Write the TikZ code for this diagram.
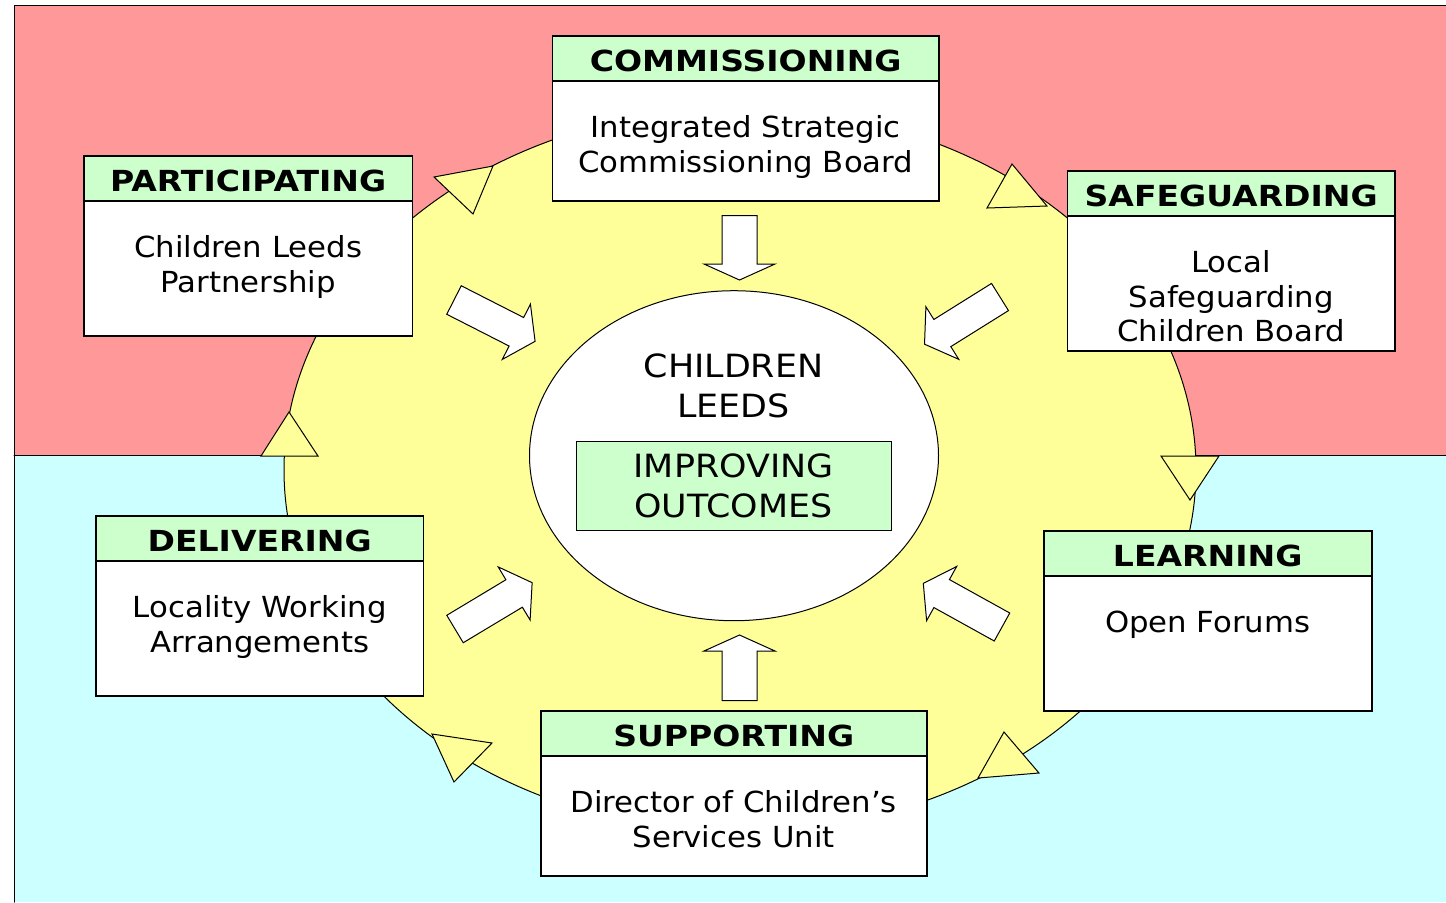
\documentclass[tikz,border=0pt]{standalone}
\usepackage{fontspec}
\setmainfont{DejaVu Sans}
\newfontfamily\boxfont{DejaVu Sans}[FakeStretch=1.06]
\newfontfamily\titlefont{DejaVu Sans}[FakeStretch=1.14]
\newfontfamily\corefont{DejaVu Sans}[FakeStretch=1.09]
\usetikzlibrary{positioning,shapes.geometric}
\definecolor{pinkbg}{HTML}{FF9999}
\definecolor{cyanbg}{HTML}{CCFFFF}
\definecolor{ringyellow}{HTML}{FFFF99}
\definecolor{headgreen}{HTML}{CCFFCC}
\tikzset{
  headbox/.style={draw,fill=headgreen,line width=0.8pt,minimum height=22.5pt,outer sep=0pt,inner sep=0pt,
    text height=13.5pt,text depth=0pt,font=\titlefont\bfseries\fontsize{14.5}{17}\selectfont},
  bodybox/.style={draw,fill=white,line width=0.8pt,minimum height=67.5pt,outer sep=0pt,inner sep=0pt},
  bodytext/.style={align=center,inner sep=0pt,anchor=base,font=\boxfont\fontsize{14.5}{17.25}\selectfont},
  cycletri/.style={draw,fill=ringyellow,line width=0.5pt,line join=miter},
  arrowblock/.style={draw,fill=white,line width=0.5pt,line join=miter}
}
\begin{document}
\begin{tikzpicture}[x=0.5pt,y=-0.5pt,line cap=round]
\useasboundingbox (0,0) rectangle (1446,902);
% background halves
\fill[pinkbg] (14,5.7) rectangle (1446,455.7);
\fill[cyanbg] (14,455.7) rectangle (1446,902);
\draw[line width=0.5pt] (1446,5.7) -- (14,5.7) -- (14,902);
\draw[line width=0.5pt] (14,455.7) -- (1446,455.7);
% ring
\draw[fill=ringyellow,line width=0.5pt] (740,470) ellipse [x radius=456, y radius=362];
\draw[cycletri] (434,177) -- (493,166) -- (473,214) -- cycle;
\draw[cycletri] (1012,164) -- (1047,206) -- (987,208) -- cycle;
\draw[cycletri] (1161,456) -- (1219,456) -- (1190,500) -- cycle;
\draw[cycletri] (1004,732) -- (1039,773) -- (978,778) -- cycle;
\draw[cycletri] (432,734) -- (492,743) -- (454,782) -- cycle;
\draw[cycletri] (261,456) -- (318,456) -- (289,412) -- cycle;
% centre
\node[ellipse,draw,fill=white,line width=0.5pt,minimum width=204.5pt,minimum height=165pt,inner sep=0pt] (core) at (734,455.7) {};
\node[align=center,inner sep=0pt,anchor=base,font=\corefont\fontsize{16}{20}\selectfont] (corename) at (733.5,417) {CHILDREN\\LEEDS};
\node[draw,fill=headgreen,line width=0.5pt,minimum width=157.5pt,minimum height=44.5pt,align=center,inner sep=0pt,
  font=\corefont\fontsize{16}{20}\selectfont] (outcomes) at (733.5,486) {IMPROVING\\OUTCOMES};
% block arrows
\draw[arrowblock] (722,215.7) -- (757,215.7) -- (757,264) -- (775,264) -- (739.5,280) -- (704,264) -- (722,264) -- cycle;
\draw[arrowblock] (722,700.7) -- (757,700.7) -- (757,651) -- (775,651) -- (739.5,635) -- (704,651) -- (722,651) -- cycle;
\draw[arrowblock,shift={(454,300)},rotate=-27] (0,-16) -- (70,-16) -- (70,-31) -- (91,0) -- (70,31) -- (70,16) -- (0,16) -- cycle;
\draw[arrowblock,shift={(1000,297)},rotate=-148] (0,-16) -- (68,-16) -- (68,-31) -- (89,0) -- (68,31) -- (68,16) -- (0,16) -- cycle;
\draw[arrowblock,shift={(455,629)},rotate=31] (0,-16) -- (69,-16) -- (69,-31) -- (90,0) -- (69,31) -- (69,16) -- (0,16) -- cycle;
\draw[arrowblock,shift={(1002,627)},rotate=151] (0,-16) -- (69,-16) -- (69,-31) -- (90,0) -- (69,31) -- (69,16) -- (0,16) -- cycle;
% boxes
\node[headbox,minimum width=193.3pt] (comhead) at (745.7,58.2) {COMMISSIONING};
\node[bodybox,minimum width=193.3pt,minimum height=60pt,below=0pt of comhead] (combody) {};
\node[bodytext] (comtext) at ([yshift=-45.75pt]combody.north) {Integrated Strategic\\Commissioning Board};
\node[headbox,minimum width=164.2pt] (parthead) at (248.2,178.2) {PARTICIPATING};
\node[bodybox,minimum width=164.2pt,below=0pt of parthead] (partbody) {};
\node[bodytext] (parttext) at ([yshift=-45.75pt]partbody.north) {Children Leeds\\Partnership};
\node[headbox,minimum width=163.9pt] (safehead) at (1231.2,193.2) {SAFEGUARDING};
\node[bodybox,minimum width=163.9pt,below=0pt of safehead] (safebody) {};
\node[bodytext] (safetext) at ([yshift=-63pt]safebody.north) {Local\\Safeguarding\\Children Board};
\node[headbox,minimum width=163.7pt] (delhead) at (259.7,538.2) {DELIVERING};
\node[bodybox,minimum width=163.7pt,below=0pt of delhead] (delbody) {};
\node[bodytext] (deltext) at ([yshift=-45.75pt]delbody.north) {Locality Working\\Arrangements};
\node[headbox,minimum width=164pt] (learnhead) at (1207.7,553.2) {LEARNING};
\node[bodybox,minimum width=164pt,below=0pt of learnhead] (learnbody) {};
\node[bodytext] (learntext) at ([yshift=-28.5pt]learnbody.north) {Open Forums};
\node[headbox,minimum width=193pt] (supphead) at (733.7,733.2) {SUPPORTING};
\node[bodybox,minimum width=193pt,minimum height=60pt,below=0pt of supphead] (suppbody) {};
\node[bodytext] (supptext) at ([yshift=-45.75pt]suppbody.north) {Director of Children’s\\Services Unit};
\end{tikzpicture}
\end{document}
